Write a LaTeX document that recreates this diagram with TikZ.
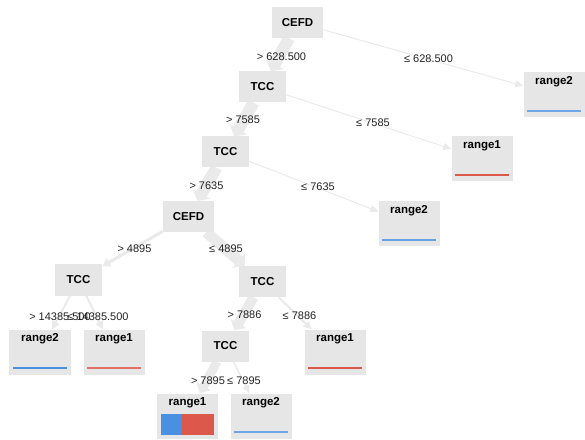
\documentclass[tikz,border=0pt]{standalone}
\usepackage{fontspec}
\setmainfont{Liberation Sans}
\usetikzlibrary{arrows.meta,backgrounds}
\definecolor{boxgray}{HTML}{E6E6E6}
\definecolor{edgegray}{HTML}{EAEAEA}
\definecolor{thingray}{HTML}{EAEAEA}
\definecolor{barblue}{HTML}{4A90E2}
\definecolor{barred}{HTML}{DC584A}
\definecolor{labelcol}{HTML}{222222}
\begin{document}
\begin{tikzpicture}[x=1bp,y=-1bp,
  inner/.style={fill=boxgray, minimum width=47bp, minimum height=31bp, inner sep=0pt,
    font=\fontsize{11.5bp}{13bp}\selectfont\bfseries},
  widebox/.style={minimum width=51bp},
  leaf/.style={fill=boxgray, minimum width=61bp, minimum height=45bp, inner sep=0pt},
  leaftext/.style={inner sep=0pt, anchor=north, font=\fontsize{11.5bp}{13bp}\selectfont\bfseries},
  elabel/.style={inner sep=0pt, text=labelcol, font=\fontsize{11bp}{13bp}\selectfont},
  tedge/.style 2 args={draw=edgegray, line width=#1, -{Triangle[length=8bp, width=#2]}},
  sedge/.style={draw=thingray, line width=1bp, -{Triangle[length=8bp, width=7bp]}},
]
\useasboundingbox (0,0) rectangle (585,440);
% internal nodes
\node[inner, widebox] (n0) at (297.5,22.5) {CEFD};
\node[inner] (n1) at (262.5,87) {TCC};
\node[inner] (n2) at (225.5,152) {TCC};
\node[inner, widebox] (n3) at (188.5,216.5) {CEFD};
\node[inner] (n4) at (78.5,280) {TCC};
\node[inner] (n5) at (262.5,281.5) {TCC};
\node[inner] (n6) at (225.5,346) {TCC};
% leaves
\node[leaf] (la) at (554,94.5) {};
\node[leaf] (lb) at (482,159) {};
\node[leaf] (lc) at (409,223.5) {};
\node[leaf] (ld) at (40,352) {};
\node[leaf] (le) at (114,352) {};
\node[leaf] (lf) at (335,352) {};
\node[leaf] (lg) at (187.5,416) {};
\node[leaf] (lh) at (261,416) {};
\node[leaftext] (ta) at ([yshift=-4bp]la.north) {range2};
\node[leaftext] (tb) at ([yshift=-4bp]lb.north) {range1};
\node[leaftext] (tc) at ([yshift=-4bp]lc.north) {range2};
\node[leaftext] (td) at ([yshift=-4bp]ld.north) {range2};
\node[leaftext] (te) at ([yshift=-4bp]le.north) {range1};
\node[leaftext] (tf) at ([yshift=-4bp]lf.north) {range1};
\node[leaftext] (tg) at ([yshift=-4bp]lg.north) {range1};
\node[leaftext] (th) at ([yshift=-4bp]lh.north) {range2};
% bars
\fill[barblue!80] ([xshift=4bp,yshift=5.5bp]la.south west) rectangle ([xshift=-4bp,yshift=7.5bp]la.south east);
\fill[barred] ([xshift=4bp,yshift=5.5bp]lb.south west) rectangle ([xshift=-4bp,yshift=7.5bp]lb.south east);
\fill[barblue!85] ([xshift=4bp,yshift=5.5bp]lc.south west) rectangle ([xshift=-4bp,yshift=7.5bp]lc.south east);
\fill[barblue] ([xshift=4bp,yshift=5.5bp]ld.south west) rectangle ([xshift=-4bp,yshift=8bp]ld.south east);
\fill[barred!85] ([xshift=4bp,yshift=5.5bp]le.south west) rectangle ([xshift=-4bp,yshift=7.5bp]le.south east);
\fill[barred] ([xshift=4bp,yshift=5.5bp]lf.south west) rectangle ([xshift=-4bp,yshift=7.5bp]lf.south east);
\fill[barblue] ([xshift=4bp,yshift=4bp]lg.south west) rectangle ([xshift=25bp,yshift=25bp]lg.south west);
\fill[barred] ([xshift=25bp,yshift=4bp]lg.south west) rectangle ([xshift=-4bp,yshift=25bp]lg.south east);
\fill[barblue!80] ([xshift=4bp,yshift=5.5bp]lh.south west) rectangle ([xshift=-4bp,yshift=7.5bp]lh.south east);
% edges
\begin{scope}[on background layer]
\draw[tedge={12bp}{20bp}] (n0) -- (n1);
\draw[tedge={12bp}{20bp}] (n1) -- (n2);
\draw[tedge={12bp}{20bp}] (n2) -- (n3);
\draw[tedge={11bp}{19bp}] (n3) -- (n5);
\draw[tedge={10bp}{18bp}] (n5) -- (n6);
\draw[tedge={9bp}{16bp}] (n6) -- (lg);
\draw[tedge={3bp}{9bp}] (n3) -- (n4);
\draw[tedge={2bp}{8bp}] (n4) -- (ld);
\draw[tedge={2bp}{8bp}] (n4) -- (le);
\draw[tedge={2bp}{8bp}] (n5) -- (lf);
\draw[tedge={1.5bp}{7bp}] (n6) -- (lh);
\draw[sedge] (n0) -- (la);
\draw[sedge] (n1) -- (lb);
\draw[sedge] (n2) -- (lc);
\end{scope}
% edge labels
\node[elabel] (e1) at (281.5,56.5) {> 628.500};
\node[elabel] (e2) at (428.5,59) {≤ 628.500};
\node[elabel] (e3) at (243,120) {> 7585};
\node[elabel] (e4) at (373,123) {≤ 7585};
\node[elabel] (e5) at (206.5,186) {> 7635};
\node[elabel] (e6) at (318,187) {≤ 7635};
\node[elabel] (e7) at (134.5,249) {> 4895};
\node[elabel] (e8) at (226,249) {≤ 4895};
\node[elabel] (e9) at (60,317) {> 14385.500};
\node[elabel] (e10) at (98,317) {≤ 14385.500};
\node[elabel] (e11) at (244.5,314.5) {> 7886};
\node[elabel] (e12) at (299.5,316) {≤ 7886};
\node[elabel] (e13) at (208,381) {> 7895};
\node[elabel] (e14) at (244,381) {≤ 7895};
\end{tikzpicture}
\end{document}
